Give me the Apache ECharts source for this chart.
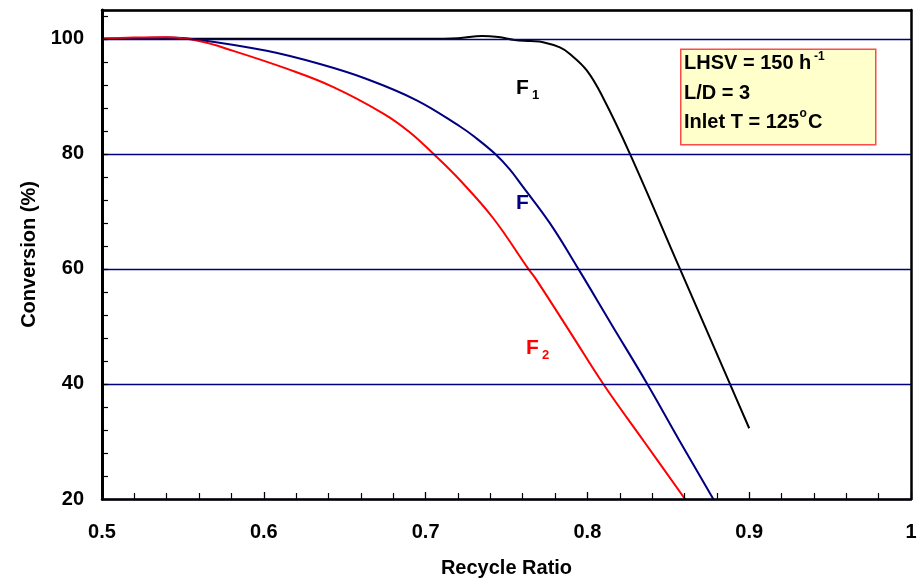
<!DOCTYPE html>
<html>
<head>
<meta charset="utf-8">
<script src="https://cdn.jsdelivr.net/npm/echarts@6/dist/echarts.min.js"></script>
<style>
html,body{margin:0;padding:0;background:#fff;}
#chart{width:922px;height:578px;}
</style>
</head>
<body>
<div id="chart"></div>
<script>
// ---- data ----
var xF1 = [0.5, 0.55, 0.6, 0.65, 0.7, 0.72, 0.735, 0.745, 0.755, 0.765, 0.7726, 0.783, 0.789, 0.7996, 0.8096, 0.8263, 0.8572, 0.8881, 0.9];
var yF1 = [100, 100, 100, 100, 100, 100.1, 100.5, 100.3, 99.8, 99.6, 99.4, 98.5, 97.4, 94.5, 89.8, 80, 60, 40, 32.3];

var xF = [0.5, 0.52, 0.54, 0.5606, 0.6018, 0.6347, 0.6636, 0.6945, 0.7213, 0.73, 0.7429, 0.752, 0.7594, 0.7769, 0.7944, 0.815, 0.837, 0.857, 0.8778];
var yF = [100, 100.1, 100.2, 99.8, 97.9, 95.6, 93.0, 89.3, 84.75, 83.0, 80, 77.3, 74.55, 67.9, 60, 50.3, 40, 30.1, 20];

var xF2 = [0.5, 0.52, 0.54, 0.56, 0.5811, 0.6141, 0.643, 0.6739, 0.69, 0.7048, 0.7213, 0.7418, 0.7635, 0.7687, 0.79, 0.8098, 0.835, 0.8603];
var yF2 = [100, 100.2, 100.25, 99.6, 97.9, 94.8, 91.6, 87.0, 83.8, 80.0, 75.4, 68.8, 60, 58, 48.7, 40, 30.0, 20];

var xTicks = [0.5, 0.6, 0.7, 0.8, 0.9, 1];
var yTicks = [20, 40, 60, 80, 100];

var FONT = 'Liberation Sans, Arial, sans-serif';

function pairs(xs, ys) { return xs.map(function (x, i) { return [x, ys[i]]; }); }

var chart = echarts.init(document.getElementById('chart'), null, {renderer: 'canvas'});

var option = {
  backgroundColor: '#ffffff',
  animation: false,
  grid: {left: 102, right: 11, top: 10, bottom: 79, containLabel: false, outerBoundsMode: 'none'},
  xAxis: [
    {
      type: 'value', min: xTicks[0], max: xTicks[xTicks.length - 1], interval: 0.1, z: 5,
      name: 'Recycle Ratio', nameLocation: 'middle', nameGap: 59,
      nameTextStyle: {fontFamily: FONT, fontSize: 20, fontWeight: 'bold', color: '#000'},
      axisLine: {onZero: false, lineStyle: {color: '#000', width: 2.5}},
      axisTick: {inside: true, length: 7, lineStyle: {color: '#000', width: 1.3}},
      minorTick: {show: true, splitNumber: 5, length: 6, lineStyle: {color: '#000', width: 1.2}},
      splitLine: {show: false},
      axisLabel: {margin: 23, fontFamily: FONT, fontSize: 20, fontWeight: 'bold', color: '#000',
        formatter: function (v) { return xTicks.indexOf(Math.round(v * 10) / 10) >= 0 ? String(Math.round(v * 10) / 10) : ''; }}
    },
    {
      type: 'value', position: 'top', min: 0.5, max: 1, z: 5,
      axisLine: {show: true, onZero: false, lineStyle: {color: '#000', width: 2.5}},
      axisTick: {show: false}, axisLabel: {show: false}, splitLine: {show: false}
    }
  ],
  yAxis: [
    {
      type: 'value', min: yTicks[0], max: 105, interval: 20, z: 4,
      name: 'Conversion (%)', nameLocation: 'middle', nameGap: 63,
      nameTextStyle: {fontFamily: FONT, fontSize: 20, fontWeight: 'bold', color: '#000'},
      axisLine: {onZero: false, lineStyle: {color: '#000', width: 3}},
      axisTick: {inside: true, length: 6, lineStyle: {color: '#000', width: 1.3}},
      minorTick: {show: true, splitNumber: 5, length: 6, lineStyle: {color: '#000', width: 1.2}},
      splitLine: {show: true, lineStyle: {color: '#000080', width: 1.4}},
      axisLabel: {margin: 18, fontFamily: FONT, fontSize: 20, fontWeight: 'bold', color: '#000',
        formatter: function (v) { return yTicks.indexOf(v) >= 0 ? String(v) : ''; }}
    },
    {
      type: 'value', position: 'right', min: 20, max: 105, z: 5,
      axisLine: {show: true, onZero: false, lineStyle: {color: '#000', width: 2.5}},
      axisTick: {show: false}, axisLabel: {show: false}, splitLine: {show: false}
    }
  ],
  series: [
    {name: 'F1', type: 'line', data: pairs(xF1, yF1), smooth: 0.4, showSymbol: false, z: 3,
      lineStyle: {color: '#000000', width: 2}},
    {name: 'F', type: 'line', data: pairs(xF, yF), smooth: 0.4, showSymbol: false, z: 3,
      lineStyle: {color: '#000080', width: 2}},
    {name: 'F2', type: 'line', data: pairs(xF2, yF2), smooth: 0.4, showSymbol: false, z: 3,
      lineStyle: {color: '#ff0000', width: 2}}
  ],
  graphic: [
    {type: 'text', left: 516, top: 78, z: 10, style: {text: 'F', fontFamily: FONT, fontSize: 21, fontWeight: 'bold', fill: '#000'}},
    {type: 'text', left: 532, top: 89, z: 10, style: {text: '1', fontFamily: FONT, fontSize: 13, fontWeight: 'bold', fill: '#000'}},
    {type: 'text', left: 516, top: 193, z: 10, style: {text: 'F', fontFamily: FONT, fontSize: 21, fontWeight: 'bold', fill: '#000080'}},
    {type: 'text', left: 526, top: 338, z: 10, style: {text: 'F', fontFamily: FONT, fontSize: 21, fontWeight: 'bold', fill: '#ff0000'}},
    {type: 'text', left: 542, top: 349, z: 10, style: {text: '2', fontFamily: FONT, fontSize: 13, fontWeight: 'bold', fill: '#ff0000'}},
    {type: 'rect', left: 680, top: 48.5, z: 10, shape: {width: 195, height: 95.5},
      style: {fill: '#ffffcc', stroke: '#ff4a4a', lineWidth: 1.5}},
    {type: 'text', left: 684, top: 53, z: 11, style: {text: 'LHSV = 150 h', fontFamily: FONT, fontSize: 20, fontWeight: 'bold', fill: '#000'}},
    {type: 'text', left: 814, top: 51, z: 11, style: {text: '-1', fontFamily: FONT, fontSize: 12, fontWeight: 'bold', fill: '#000'}},
    {type: 'text', left: 684, top: 83, z: 11, style: {text: 'L/D = 3', fontFamily: FONT, fontSize: 20, fontWeight: 'bold', fill: '#000'}},
    {type: 'text', left: 684, top: 112, z: 11, style: {text: 'Inlet T = 125', fontFamily: FONT, fontSize: 20, fontWeight: 'bold', fill: '#000'}},
    {type: 'text', left: 799.5, top: 108, z: 11, style: {text: 'o', fontFamily: FONT, fontSize: 12, fontWeight: 'bold', fill: '#000'}},
    {type: 'text', left: 808, top: 112, z: 11, style: {text: 'C', fontFamily: FONT, fontSize: 20, fontWeight: 'bold', fill: '#000'}}
  ]
};
chart.setOption(option);
</script>
</body>
</html>
